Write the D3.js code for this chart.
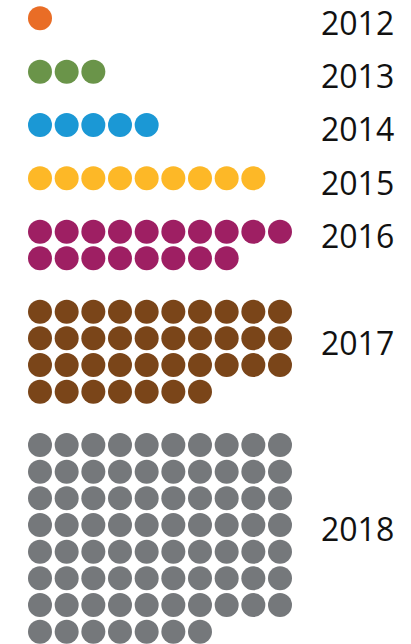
<!DOCTYPE html>
<html><head><meta charset="utf-8">
<script src="https://cdn.jsdelivr.net/npm/d3@7"></script>
<style>html,body{margin:0;padding:0;background:#fff;overflow:hidden}</style>
</head><body>
<svg id="c" width="411" height="644"></svg>
<script>
const years = ["2012","2013","2014","2015","2016","2017","2018"];
const counts = [1, 3, 5, 9, 18, 37, 77];
const colors = ["#E96D26","#6A9449","#1B98D5","#FDB827","#9E1F63","#7A4519","#75787B"];
const perRow = 10;

const svg = d3.select("#c");
const step = 80/3;
const x = d3.scaleLinear().domain([0, 1]).range([40, 40 + step]);
const y = d3.scaleLinear().domain([0, 1]).range([18.33, 18.33 + step]);

let rowStart = 0;
const groups = years.map((yr, i) => {
  const rows = Math.ceil(counts[i] / perRow);
  const g = {year: yr, count: counts[i], color: colors[i], start: rowStart, rows};
  rowStart += rows + 1;
  return g;
});

const dots = [];
groups.forEach(g => {
  for (let k = 0; k < g.count; k++) {
    dots.push({col: k % perRow, row: g.start + Math.floor(k / perRow), color: g.color});
  }
});

svg.selectAll("circle").data(dots).join("circle")
  .attr("cx", d => x(d.col))
  .attr("cy", d => y(d.row))
  .attr("r", 12)
  .attr("fill", d => d.color);

svg.selectAll("text").data(groups).join("text")
  .attr("x", 321)
  .attr("y", d => y(d.start + Math.max(0, d.rows / 2 - 1) + 0.1) + 2)
  .attr("dy", "0.36em")
  .attr("font-family", "'Open Sans', sans-serif")
  .attr("font-size", 32)
  .attr("fill", "#111")
  .text(d => d.year);
</script>
</body></html>
